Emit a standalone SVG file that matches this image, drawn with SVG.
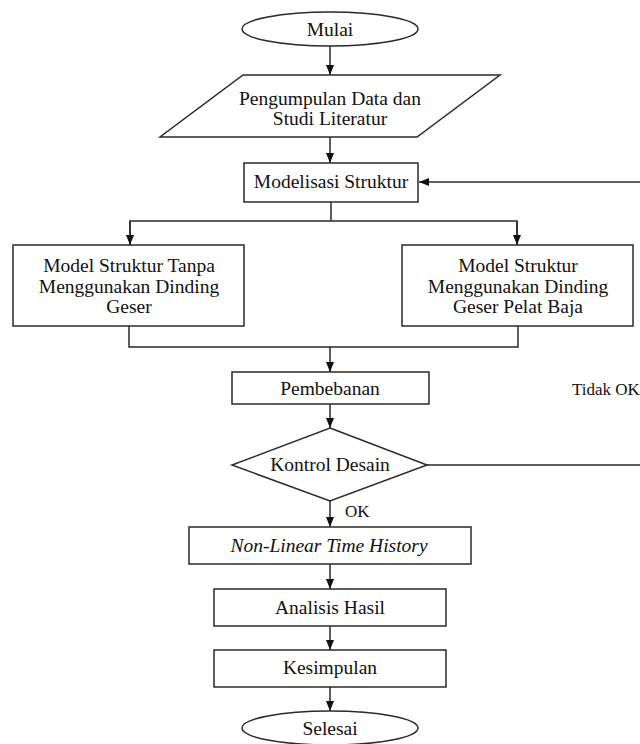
<svg xmlns="http://www.w3.org/2000/svg" width="640" height="744" viewBox="0 0 640 744">
<style>
.s{fill:#fff;stroke:#2a2a2a;stroke-width:1.5}
.c{fill:none;stroke:#2a2a2a;stroke-width:1.5}
.t{font-family:"Liberation Serif","Times New Roman",serif;font-size:19.5px;fill:#111;text-anchor:middle}
.l{font-family:"Liberation Serif","Times New Roman",serif;font-size:17px;fill:#111}
</style>
<defs>
<marker id="a" markerUnits="userSpaceOnUse" markerWidth="10" markerHeight="10" viewBox="0 0 10 10" refX="10" refY="5" orient="auto">
<path d="M0,1 L10,5 L0,9 Z" fill="#111"/>
</marker>
</defs>
<rect width="640" height="744" fill="#fff"/>
<g id="connectors">
<path class="c" d="M330,46 V75" marker-end="url(#a)"/>
<path class="c" d="M330,137 V163" marker-end="url(#a)"/>
<path class="c" d="M331,202 V221"/>
<path class="c" d="M130,245 V221 H517 V245"/>
<path class="c" d="M130,221 V245" marker-end="url(#a)"/>
<path class="c" d="M517,221 V245" marker-end="url(#a)"/>
<path class="c" d="M129,326 V347 H518 V326"/>
<path class="c" d="M330,347 V372" marker-end="url(#a)"/>
<path class="c" d="M330,404 V428" marker-end="url(#a)"/>
<path class="c" d="M330,501 V527" marker-end="url(#a)"/>
<path class="c" d="M330,564 V589" marker-end="url(#a)"/>
<path class="c" d="M330,626 V650" marker-end="url(#a)"/>
<path class="c" d="M330,687 V711" marker-end="url(#a)"/>
<path class="c" d="M427,465 H642 V182 H419" marker-end="url(#a)"/>
<text class="l" x="572" y="395" font-size="16.5px">Tidak OK</text>
<text class="l" x="345" y="517">OK</text>
</g>
<g id="mulai">
<ellipse class="s" cx="330" cy="29" rx="88" ry="17"/>
<text class="t" x="330" y="36">Mulai</text>
</g>
<g id="pengumpulan">
<polygon class="s" points="243,75 500,75 417,137 160,137"/>
<text class="t" x="330" y="105">Pengumpulan Data dan</text>
<text class="t" x="330" y="125">Studi Literatur</text>
</g>
<g id="modelisasi">
<rect class="s" x="244" y="163" width="174" height="39"/>
<text class="t" x="331" y="188">Modelisasi Struktur</text>
</g>
<g id="model-tanpa">
<rect class="s" x="13" y="245" width="231" height="81"/>
<text class="t" x="129" y="272">Model Struktur Tanpa</text>
<text class="t" x="129" y="292.5">Menggunakan Dinding</text>
<text class="t" x="129" y="313">Geser</text>
</g>
<g id="model-pelat">
<rect class="s" x="402" y="245" width="231" height="81"/>
<text class="t" x="518" y="272">Model Struktur</text>
<text class="t" x="518" y="292.5">Menggunakan Dinding</text>
<text class="t" x="518" y="313">Geser Pelat Baja</text>
</g>
<g id="pembebanan">
<rect class="s" x="232" y="372" width="197" height="32"/>
<text class="t" x="330" y="395">Pembebanan</text>
</g>
<g id="kontrol">
<polygon class="s" points="330,428 427,465 330,501 232,465"/>
<text class="t" x="330" y="471">Kontrol Desain</text>
</g>
<g id="nlth">
<rect class="s" x="189" y="527" width="282" height="37"/>
<text class="t" x="329" y="552" font-style="italic">Non-Linear Time History</text>
</g>
<g id="analisis">
<rect class="s" x="214" y="589" width="232" height="37"/>
<text class="t" x="330" y="614">Analisis Hasil</text>
</g>
<g id="kesimpulan">
<rect class="s" x="214" y="650" width="232" height="37"/>
<text class="t" x="330" y="674">Kesimpulan</text>
</g>
<g id="selesai">
<ellipse class="s" cx="330" cy="728" rx="88" ry="17"/>
<text class="t" x="330" y="735">Selesai</text>
</g>
</svg>
